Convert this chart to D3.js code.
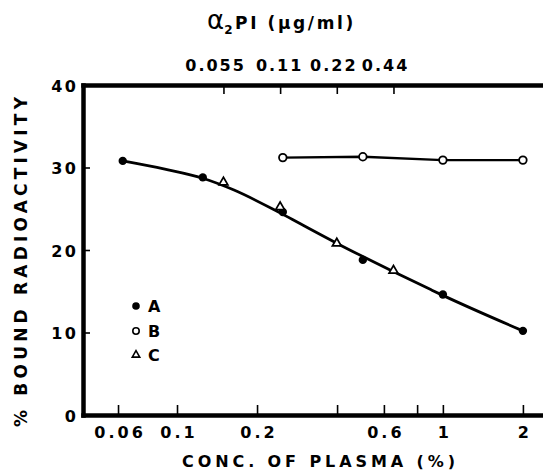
<!DOCTYPE html>
<html><head><meta charset="utf-8">
<script src="https://cdn.jsdelivr.net/npm/d3@7"></script>
<style>
body{margin:0;background:#fff}
svg{display:block;background:#fff}
text{font-family:"DejaVu Sans",sans-serif;font-weight:bold;fill:#000}
</style></head><body>
<svg id="c" width="543" height="472"></svg>
<script>
// ---- data ----
const yTicks = [0, 10, 20, 30, 40];
const xTickValues = [0.06, 0.1, 0.2, 0.4, 0.6, 0.8, 1, 2];
const xTickLabels = ["0.06", "0.1", "0.2", "", "0.6", "", "1", "2"];
const topTickValues = [0.055, 0.11, 0.22, 0.44];
const topTickLabels = ["0.055", "0.11", "0.22", "0.44"];
const aConc = [0.0625, 0.125, 0.25, 0.5, 1, 2];
const aVal = [30.8, 28.8, 24.6, 18.8, 14.6, 10.2];
const bConc = [0.25, 0.5, 1, 2];
const bVal = [31.2, 31.3, 30.9, 30.9];
const cPI = [0.055, 0.11, 0.22, 0.44];
const cVal = [28.2, 25.2, 20.8, 17.5];
const fitConc = [0.0625, 0.09, 0.125, 0.163, 0.244, 0.29, 0.4, 0.65, 0.9, 1, 2];
const fitVal = [30.8, 29.8, 28.7, 27.3, 24.5, 23.2, 20.8, 17.4, 15.2, 14.5, 10.2];
const legendLabels = ["A", "B", "C"];

// ---- layout ----
const svg = d3.select("#c");
const L = 83, T = 85, B = 415, R = 543;
const x = d3.scaleLog().domain([0.0443, 2.38]).range([L, R]);
const xTop = d3.scaleLog().domain([0.00987, 2.74]).range([L, R]);
const y = d3.scaleLinear().domain([0, 40]).range([B, T]);
const topLabelShift = [-8.4, -1, -3.5, -8.4]; // label nudges relative to tick (layout only)

function styleAxis(g, fs, ls) {
  g.attr("font-family", null).attr("font-size", null);
  g.select(".domain").attr("stroke", "#000").attr("stroke-width", 4.5).attr("stroke-linecap", "square");
  g.selectAll(".tick line").attr("stroke", "#000").attr("stroke-width", 1.6);
  g.selectAll(".tick text").style("font-size", fs + "px").style("letter-spacing", ls + "px").attr("fill", "#000");
}

// bottom axis
const gx = svg.append("g").attr("transform", `translate(0,${B})`)
  .call(d3.axisBottom(x).tickValues(xTickValues).tickFormat((d, i) => xTickLabels[i])
    .tickSizeInner(-10).tickSizeOuter(0).tickPadding(12));
styleAxis(gx, 16, 3);
gx.selectAll(".tick text").attr("dx", 1.5);

// top axis
const gt = svg.append("g").attr("transform", `translate(0,${T})`)
  .call(d3.axisTop(xTop).tickValues(topTickValues).tickFormat((d, i) => topTickLabels[i])
    .tickSizeInner(-9).tickSizeOuter(0).tickPadding(14));
styleAxis(gt, 16, 2);
gt.selectAll(".tick text").attr("dx", (d, i) => topLabelShift[i]);

// left axis
const gy = svg.append("g").attr("transform", `translate(${L},0)`)
  .call(d3.axisLeft(y).tickValues(yTicks).tickFormat(d3.format("d"))
    .tickSizeInner(-7).tickSizeOuter(0).tickPadding(7));
styleAxis(gy, 16, 2.5);
gy.selectAll(".tick text").attr("dx", 2.5).attr("dy", "0.4em");

// fitted curve A/C
const fit = fitConc.map((c, i) => [c, fitVal[i]]);
svg.append("path").attr("d", d3.line().x(d => x(d[0])).y(d => y(d[1])).curve(d3.curveMonotoneX)(fit))
  .attr("fill", "none").attr("stroke", "#000").attr("stroke-width", 2.8);

// B line
const bData = bConc.map((c, i) => [c, bVal[i]]);
svg.append("path").attr("d", d3.line().x(d => x(d[0])).y(d => y(d[1]))(bData))
  .attr("fill", "none").attr("stroke", "#000").attr("stroke-width", 2.4);

// A points
svg.selectAll(".a").data(aConc.map((c, i) => [c, aVal[i]])).join("circle")
  .attr("cx", d => x(d[0])).attr("cy", d => y(d[1])).attr("r", 4.2).attr("fill", "#000");

// C triangles (α2PI axis)
const tri = d3.symbol(d3.symbolTriangle, 34);
svg.selectAll(".c").data(cPI.map((c, i) => [c, cVal[i]])).join("path")
  .attr("d", tri).attr("transform", d => `translate(${xTop(d[0])},${y(d[1])})`)
  .attr("fill", "#fff").attr("stroke", "#000").attr("stroke-width", 1.7);

// B circles
svg.selectAll(".b").data(bData).join("circle")
  .attr("cx", d => x(d[0])).attr("cy", d => y(d[1])).attr("r", 3.8)
  .attr("fill", "#fff").attr("stroke", "#000").attr("stroke-width", 1.8);

// legend
const lg = svg.append("g");
const ly = [306, 331, 355];
lg.append("circle").attr("cx", 136).attr("cy", ly[0]).attr("r", 3.8).attr("fill", "#000");
lg.append("circle").attr("cx", 136).attr("cy", ly[1]).attr("r", 3.2).attr("fill", "#fff").attr("stroke", "#000").attr("stroke-width", 1.6);
lg.append("path").attr("d", d3.symbol(d3.symbolTriangle, 24)).attr("transform", `translate(136,${ly[2]})`)
  .attr("fill", "#fff").attr("stroke", "#000").attr("stroke-width", 1.6);
lg.selectAll("text").data(legendLabels).join("text")
  .attr("x", 148).attr("y", (d, i) => ly[i]).attr("dy", "0.36em")
  .style("font-size", "16px").text(d => d);

// axis titles
svg.append("text").attr("x", 318.5).attr("y", 467).attr("text-anchor", "middle")
  .style("font-size", "16px").attr("textLength", 273).attr("lengthAdjust", "spacing")
  .text("CONC. OF PLASMA (%)");

svg.append("text").attr("transform", "translate(27,262) rotate(-90)").attr("text-anchor", "middle")
  .style("font-size", "17px").attr("textLength", 330).attr("lengthAdjust", "spacing")
  .text("% BOUND RADIOACTIVITY");

const tt = svg.append("text").attr("x", 207).attr("y", 29).style("font-size", "17px").style("letter-spacing", "2.6px");
tt.append("tspan").style("font-size", "26px").style("font-weight", "normal").style("letter-spacing", "0px").text("α");
tt.append("tspan").attr("dy", 5).style("font-size", "12px").text("2");
tt.append("tspan").attr("dy", -5).text("PI (μg/ml)");
</script>
</body></html>
